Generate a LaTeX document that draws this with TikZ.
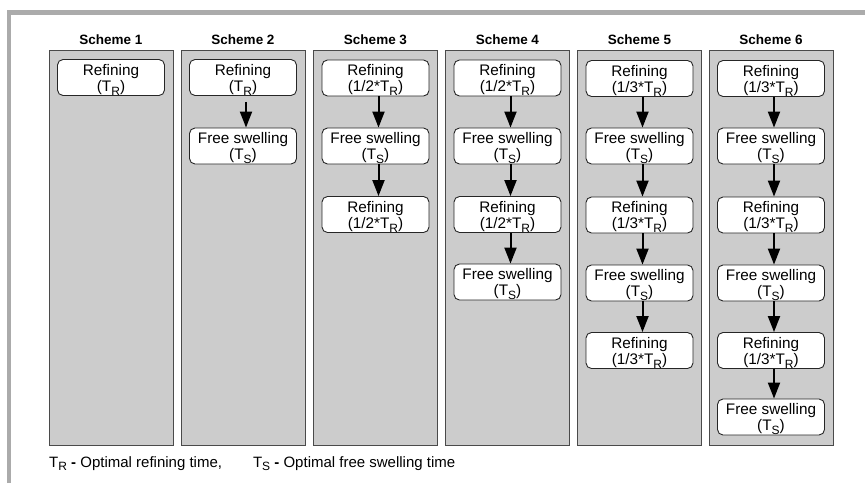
\documentclass[tikz,border=0pt]{standalone}
\usepackage{fontspec}
\setmainfont{Liberation Sans}
\usetikzlibrary{arrows.meta}
\definecolor{colfill}{HTML}{CCCCCC}
\definecolor{framegray}{HTML}{ABABAB}
\definecolor{edgegray}{HTML}{4A4A4A}
\newcommand{\Tsub}[1]{T\raisebox{-0.25em}{\fontsize{12}{12}\selectfont #1}}
\newcommand{\twoline}[2]{\raisebox{-2.5pt}[\height][\depth]{\begin{tabular}{@{}c@{}}#1\\#2\end{tabular}}}
\newcommand{\refn}[1]{\twoline{Refining}{(#1\Tsub{R})}}
\newcommand{\fsw}{\twoline{Free swelling}{(\Tsub{S})}}
\tikzset{
  colbox/.style={draw=edgegray, fill=colfill, line width=1pt, minimum width=124pt, minimum height=395pt, inner sep=0pt},
  header/.style={font=\bfseries\fontsize{13.5}{15}\selectfont, inner sep=0pt},
  procbox/.style={draw=black!85, fill=white, rounded corners=5.5pt, line width=0.9pt, minimum width=107pt, minimum height=36pt, inner sep=0pt, align=center, font=\fontsize{15.3}{16}\selectfont},
  arr/.style={-{Triangle[width=12pt,length=16pt]}, line width=2pt, black},
  note/.style={font=\fontsize{15}{17}\selectfont, inner sep=0pt, anchor=base west}
}
\begin{document}
\begin{tikzpicture}[x=1pt,y=-1pt]
\useasboundingbox (0,0) rectangle (865,483);
% outer frame
\draw[framegray, line width=4.5pt] (9.2,483) -- (9.2,12.5) -- (865,12.5);
% columns
\foreach \i/\cx in {1/111,2/243,3/375.5,4/507.5,5/639.5,6/771}{
  \node[colbox] (col\i) at (\cx,247.5) {};
  \node[header] (h\i) at (\cx,40) {Scheme \i};
}
% Scheme 1
\node[procbox] (a1) at (111,77.5) {\refn{}};
% Scheme 2
\node[procbox] (b1) at (243,77.5) {\refn{}};
\node[procbox] (b2) at (243,146) {\fsw};
% Scheme 3
\node[procbox] (c1) at (375.5,78) {\refn{1/2*}};
\node[procbox] (c2) at (375.5,146) {\fsw};
\node[procbox] (c3) at (375.5,214.5) {\refn{1/2*}};
% Scheme 4
\node[procbox] (d1) at (507.5,78) {\refn{1/2*}};
\node[procbox] (d2) at (507.5,146) {\fsw};
\node[procbox] (d3) at (507.5,214.5) {\refn{1/2*}};
\node[procbox] (d4) at (507.5,282) {\fsw};
% Scheme 5
\node[procbox] (e1) at (639.5,78.5) {\refn{1/3*}};
\node[procbox] (e2) at (639.5,146) {\fsw};
\node[procbox] (e3) at (639.5,215) {\refn{1/3*}};
\node[procbox] (e4) at (639.5,283) {\fsw};
\node[procbox] (e5) at (639.5,350.5) {\refn{1/3*}};
% Scheme 6
\node[procbox] (f1) at (771,78.5) {\refn{1/3*}};
\node[procbox] (f2) at (771,146) {\fsw};
\node[procbox] (f3) at (771,215) {\refn{1/3*}};
\node[procbox] (f4) at (771,283) {\fsw};
\node[procbox] (f5) at (771,350.5) {\refn{1/3*}};
\node[procbox] (f6) at (771,417) {\fsw};
% arrows
\draw[arr] ([xshift=3pt,yshift=-6pt]b1.south) -- ([xshift=3pt]b2.north);
\foreach \p/\q in {c1/c2,c2/c3,d1/d2,d2/d3,d3/d4,e1/e2,e2/e3,e3/e4,e4/e5,f1/f2,f2/f3,f3/f4,f4/f5,f5/f6}{
  \draw[arr] ([xshift=3pt]\p.south) -- ([xshift=3pt]\q.north);
}
% footnote
\node[note] (fn) at (49,467) {\Tsub{R} \textbf{-} Optimal refining time,\hspace{31pt}\Tsub{S} \textbf{-} Optimal free swelling time};
\end{tikzpicture}
\end{document}
